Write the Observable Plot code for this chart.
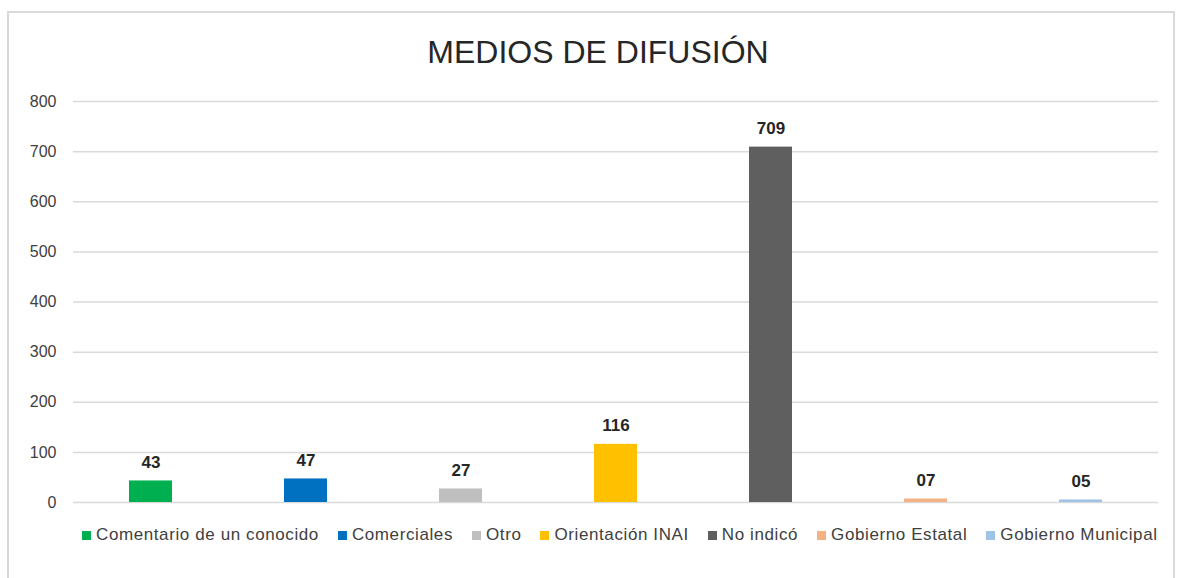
<!DOCTYPE html>
<html>
<head>
<meta charset="utf-8">
<script src="https://cdn.jsdelivr.net/npm/d3@7"></script>
<script src="https://cdn.jsdelivr.net/npm/@observablehq/plot@0.6"></script>
<style>
  html, body { margin: 0; padding: 0; background: #fff; }
  body { width: 1179px; height: 578px; position: relative; overflow: hidden; font-family: "Liberation Sans", Arial, sans-serif; }
  #frame { position: absolute; left: 7px; top: 11px; width: 1168px; height: 600px; border: 2px solid #d9d9d9; box-sizing: border-box; }
  #title { position: absolute; left: 0; top: 34px; width: 1196px; text-align: center; font-size: 32px; color: #262626; }
  #chart { position: absolute; left: 0; top: 80px; }
  #legend { position: absolute; left: 82px; top: 525px; display: flex; font-size: 17px; letter-spacing: 0.6px; color: #404040; white-space: nowrap; }
  #legend .item { display: flex; align-items: center; margin-right: 19px; }
  #legend .sw { width: 9px; height: 9px; margin-right: 5px; }
</style>
</head>
<body>
<div id="frame"></div>
<div id="title">MEDIOS DE DIFUSIÓN</div>
<div id="chart"></div>
<div id="legend"></div>
<script>
const categories = ["Comentario de un conocido", "Comerciales", "Otro", "Orientación INAI", "No indicó", "Gobierno Estatal", "Gobierno Municipal"];
const values = [43, 47, 27, 116, 709, 7, 5];
const valueLabels = ["43", "47", "27", "116", "709", "07", "05"];
const colors = ["#00B050", "#0070C0", "#BFBFBF", "#FFC000", "#5F5F5F", "#F4B183", "#9DC3E6"];
const yTicks = [0, 100, 200, 300, 400, 500, 600, 700, 800];

const data = categories.map((c, i) => ({cat: c, value: values[i], label: valueLabels[i], color: colors[i]}));

const chart = Plot.plot({
  width: 1179,
  height: 440,
  marginLeft: 73,
  marginRight: 21,
  marginTop: 21,
  marginBottom: 18,
  style: {fontFamily: "Liberation Sans, Arial, sans-serif", background: "transparent"},
  x: {domain: categories, paddingInner: 0.72, paddingOuter: 0.36, axis: null},
  y: {domain: [0, 800], ticks: yTicks, label: null},
  marks: [
    Plot.ruleY(yTicks, {stroke: "#d9d9d9", strokeWidth: 1.5}),
    Plot.axisY({ticks: yTicks, tickSize: 0, tickPadding: 17, fontSize: 16, fill: "#404040", label: null}),
    Plot.barY(data, {x: "cat", y: "value", fill: "color"}),
    Plot.text(data, {x: "cat", y: "value", text: "label", lineAnchor: "bottom", dy: -13, fontSize: 17, fontWeight: "bold", fill: "#262626"})
  ]
});
document.getElementById("chart").appendChild(chart);

const legend = document.getElementById("legend");
categories.forEach((c, i) => {
  const item = document.createElement("div");
  item.className = "item";
  const sw = document.createElement("span");
  sw.className = "sw";
  sw.style.background = colors[i];
  const t = document.createElement("span");
  t.textContent = c;
  item.appendChild(sw);
  item.appendChild(t);
  legend.appendChild(item);
});
</script>
</body>
</html>
